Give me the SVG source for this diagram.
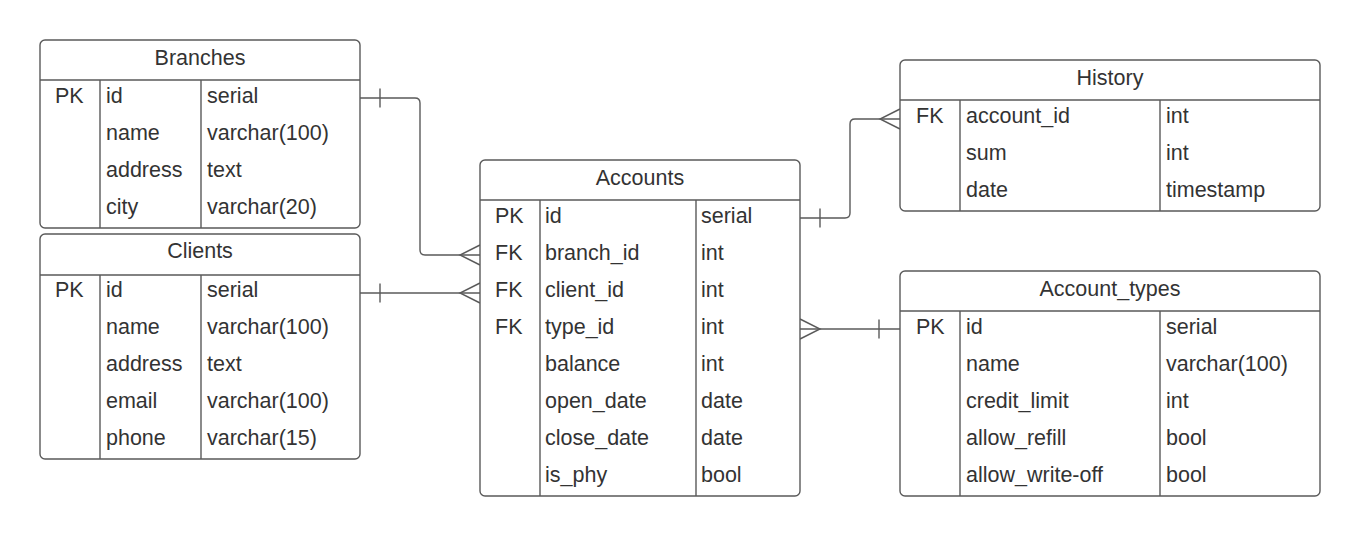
<svg xmlns="http://www.w3.org/2000/svg" width="1360" height="536" viewBox="0 0 1360 536">
<style>
.box{fill:#ffffff;stroke:#5a5a5a;stroke-width:1.4}
.ln{fill:none;stroke:#5a5a5a;stroke-width:1.4}
.t{font-family:"Liberation Sans",Arial,sans-serif;font-size:21.5px;fill:#333333}
.h{text-anchor:middle}
</style>
<rect width="1360" height="536" fill="#ffffff"/>
<g id="connectors">
  <path class="ln" d="M360,98 H415 Q420,98 420,103 V250 Q420,255 425,255 H480"/>
  <path class="ln" d="M380,88.5 V107.5"/>
  <path class="ln" d="M480,245 L460,255 L480,265"/>
  <path class="ln" d="M360,293 H480"/>
  <path class="ln" d="M380,283.5 V302.5"/>
  <path class="ln" d="M480,283 L460,293 L480,303"/>
  <path class="ln" d="M800,218 H845 Q850,218 850,213 V124 Q850,119 855,119 H900"/>
  <path class="ln" d="M820,208.5 V227.5"/>
  <path class="ln" d="M900,109 L880,119 L900,129"/>
  <path class="ln" d="M800,329 H900"/>
  <path class="ln" d="M879,319.5 V338.5"/>
  <path class="ln" d="M800,319 L820,329 L800,339"/>
</g>
<g id="branches">
  <rect class="box" x="40" y="40" width="320" height="188" rx="5"/>
  <path class="ln" d="M40,80 H360 M100,80 V228 M201,80 V228"/>
  <text class="t h" x="200" y="65">Branches</text>
  <text class="t" x="55" y="103">PK</text>
  <text class="t" x="106" y="103">id</text><text class="t" x="207" y="103">serial</text>
  <text class="t" x="106" y="140">name</text><text class="t" x="207" y="140">varchar(100)</text>
  <text class="t" x="106" y="177">address</text><text class="t" x="207" y="177">text</text>
  <text class="t" x="106" y="214">city</text><text class="t" x="207" y="214">varchar(20)</text>
</g>
<g id="clients">
  <rect class="box" x="40" y="234" width="320" height="225" rx="5"/>
  <path class="ln" d="M40,275 H360 M100,275 V459 M201,275 V459"/>
  <text class="t h" x="200" y="258">Clients</text>
  <text class="t" x="55" y="297">PK</text>
  <text class="t" x="106" y="297">id</text><text class="t" x="207" y="297">serial</text>
  <text class="t" x="106" y="334">name</text><text class="t" x="207" y="334">varchar(100)</text>
  <text class="t" x="106" y="371">address</text><text class="t" x="207" y="371">text</text>
  <text class="t" x="106" y="408">email</text><text class="t" x="207" y="408">varchar(100)</text>
  <text class="t" x="106" y="445">phone</text><text class="t" x="207" y="445">varchar(15)</text>
</g>
<g id="accounts">
  <rect class="box" x="480" y="160" width="320" height="336" rx="5"/>
  <path class="ln" d="M480,200 H800 M540,200 V496 M696,200 V496"/>
  <text class="t h" x="640" y="185">Accounts</text>
  <text class="t" x="495" y="223">PK</text>
  <text class="t" x="545" y="223">id</text><text class="t" x="701" y="223">serial</text>
  <text class="t" x="495" y="260">FK</text>
  <text class="t" x="545" y="260">branch_id</text><text class="t" x="701" y="260">int</text>
  <text class="t" x="495" y="297">FK</text>
  <text class="t" x="545" y="297">client_id</text><text class="t" x="701" y="297">int</text>
  <text class="t" x="495" y="334">FK</text>
  <text class="t" x="545" y="334">type_id</text><text class="t" x="701" y="334">int</text>
  <text class="t" x="545" y="371">balance</text><text class="t" x="701" y="371">int</text>
  <text class="t" x="545" y="408">open_date</text><text class="t" x="701" y="408">date</text>
  <text class="t" x="545" y="445">close_date</text><text class="t" x="701" y="445">date</text>
  <text class="t" x="545" y="482">is_phy</text><text class="t" x="701" y="482">bool</text>
</g>
<g id="history">
  <rect class="box" x="900" y="60" width="420" height="151" rx="5"/>
  <path class="ln" d="M900,100 H1320 M960,100 V211 M1160,100 V211"/>
  <text class="t h" x="1110" y="85">History</text>
  <text class="t" x="916" y="123">FK</text>
  <text class="t" x="966" y="123">account_id</text><text class="t" x="1166" y="123">int</text>
  <text class="t" x="966" y="160">sum</text><text class="t" x="1166" y="160">int</text>
  <text class="t" x="966" y="197">date</text><text class="t" x="1166" y="197">timestamp</text>
</g>
<g id="account_types">
  <rect class="box" x="900" y="271" width="420" height="225" rx="5"/>
  <path class="ln" d="M900,311 H1320 M960,311 V496 M1160,311 V496"/>
  <text class="t h" x="1110" y="296">Account_types</text>
  <text class="t" x="916" y="334">PK</text>
  <text class="t" x="966" y="334">id</text><text class="t" x="1166" y="334">serial</text>
  <text class="t" x="966" y="371">name</text><text class="t" x="1166" y="371">varchar(100)</text>
  <text class="t" x="966" y="408">credit_limit</text><text class="t" x="1166" y="408">int</text>
  <text class="t" x="966" y="445">allow_refill</text><text class="t" x="1166" y="445">bool</text>
  <text class="t" x="966" y="482">allow_write-off</text><text class="t" x="1166" y="482">bool</text>
</g>
</svg>
